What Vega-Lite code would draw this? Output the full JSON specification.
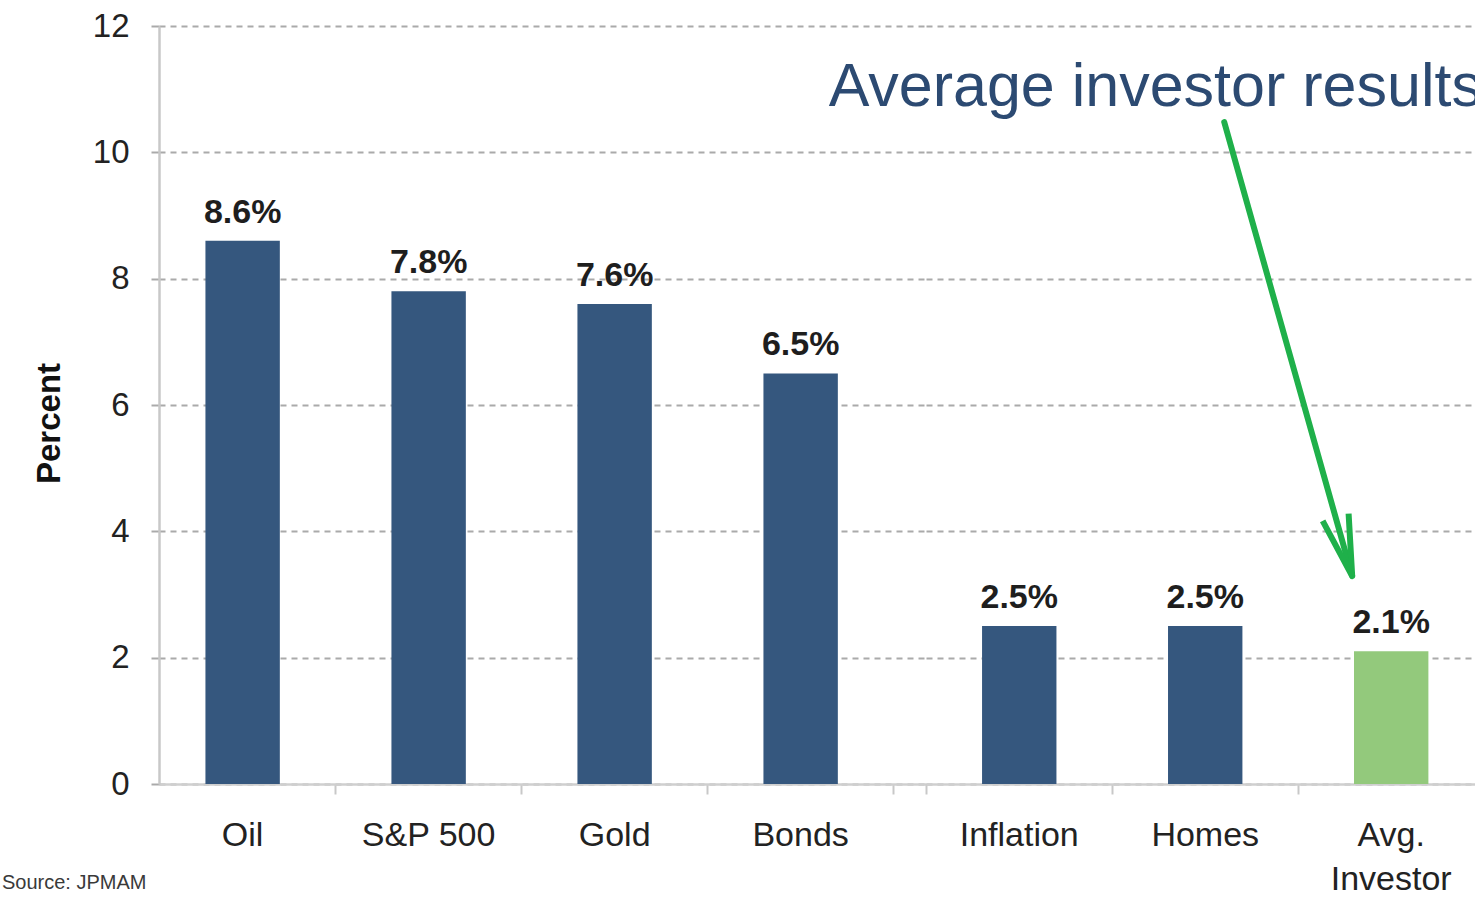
{
  "$schema": "https://vega.github.io/schema/vega-lite/v6.json",
  "padding": {"left": 2, "top": 10, "right": 0, "bottom": 0},
  "background": "white",
  "config": {"view": {"stroke": null}, "font": "Liberation Sans"},
  "bounds": "flush",
  "spacing": 0,
  "title": {"text": "Source: JPMAM", "orient": "bottom", "anchor": "start", "frame": "group", "fontSize": 20, "fontWeight": "normal", "color": "#3a3a3a", "dx": -157, "dy": -23, "offset": 0},
  "datasets": {
    "left": [
      {"cat": "Oil", "value": 8.6, "label": "8.6%", "kind": "asset"},
      {"cat": "S&P 500", "value": 7.8, "label": "7.8%", "kind": "asset"},
      {"cat": "Gold", "value": 7.6, "label": "7.6%", "kind": "asset"},
      {"cat": "Bonds", "value": 6.5, "label": "6.5%", "kind": "asset"}
    ],
    "right": [
      {"cat": "Inflation", "value": 2.5, "label": "2.5%", "kind": "asset"},
      {"cat": "Homes", "value": 2.5, "label": "2.5%", "kind": "asset"},
      {"cat": "Avg. Investor", "value": 2.1, "label": "2.1%", "kind": "investor"}
    ],
    "annot": [{"cat": "Bonds", "y": 10.73, "text": "Average investor results"}],
    "arrow": [{"from": "Homes", "to": "Avg. Investor", "y1": 10.48, "y2": 3.29}],
    "arrowhead": [{"cat": "Avg. Investor", "y": 3.29}]
  },
  "hconcat": [
    {
      "width": 767,
      "height": 758,
      "data": {"name": "left"},
      "encoding": {
        "x": {"field": "cat", "type": "nominal", "sort": null,
          "scale": {"domain": ["Oil", "S&P 500", "Gold", "Bonds"], "paddingInner": 0.6, "paddingOuter": 0.3618, "align": 0.345},
          "axis": {"title": null, "labelAngle": 0, "labelFontSize": 34, "labelColor": "#222222", "labelPadding": 24, "tickSize": 10, "tickColor": "#c8c8c8", "tickWidth": 2, "domainColor": "#cfcfcf", "domainWidth": 2.5, "bandPosition": 1.75}},
        "y": {"field": "value", "type": "quantitative",
          "scale": {"domain": [0, 12]},
          "axis": {"values": [0, 2, 4, 6, 8, 10, 12], "title": "Percent", "titleFontSize": 33, "titleFontWeight": "bold", "titleColor": "#111111", "titlePadding": 26, "titleY": 397, "titleAlign": "center", "labelFontSize": 33, "labelColor": "#222222", "labelPadding": 22, "tickSize": 8, "tickColor": "#aaaaaa", "tickWidth": 2, "domainColor": "#c8c8c8", "domainWidth": 2.5, "grid": true, "gridDash": [6, 5], "gridColor": "#aaaaaa", "gridWidth": 2}}
      },
      "layer": [
        {"mark": {"type": "bar"},
          "encoding": {"color": {"field": "kind", "type": "nominal", "scale": {"domain": ["asset", "investor"], "range": ["#35577e", "#93c97c"]}, "legend": null}}},
        {"mark": {"type": "text", "fontSize": 34, "fontWeight": "bold", "dy": -18, "baseline": "alphabetic", "color": "#1e1e1e"},
          "encoding": {"text": {"field": "label"}}},
        {"data": {"name": "annot"},
          "mark": {"type": "text", "align": "left", "baseline": "alphabetic", "fontSize": 61, "color": "#2c4a72", "dx": 28},
          "encoding": {"x": {"field": "cat", "type": "nominal"}, "y": {"field": "y", "type": "quantitative"}, "text": {"field": "text"}}}
      ]
    },
    {
      "width": 549,
      "height": 758,
      "data": {"name": "right"},
      "encoding": {
        "x": {"field": "cat", "type": "nominal", "sort": null,
          "scale": {"domain": ["Inflation", "Homes", "Avg. Investor"], "paddingInner": 0.6, "paddingOuter": 0.276, "align": 0.546},
          "axis": {"title": null, "labelAngle": 0, "labelFontSize": 34, "labelColor": "#222222", "labelPadding": 24, "tickSize": 10, "tickColor": "#c8c8c8", "tickWidth": 2, "domainColor": "#cfcfcf", "domainWidth": 2.5, "bandPosition": -0.75, "labelLineHeight": 44, "labelExpr": "datum.value == 'Avg. Investor' ? ['Avg.', 'Investor'] : datum.label"}},
        "y": {"field": "value", "type": "quantitative",
          "scale": {"domain": [0, 12]},
          "axis": {"values": [0, 2, 4, 6, 8, 10, 12], "title": null, "labels": false, "ticks": false, "domain": false, "grid": true, "gridDash": [6, 5], "gridColor": "#aaaaaa", "gridWidth": 2}}
      },
      "layer": [
        {"mark": {"type": "bar"},
          "encoding": {"color": {"field": "kind", "type": "nominal", "scale": {"domain": ["asset", "investor"], "range": ["#35577e", "#93c97c"]}, "legend": null}}},
        {"mark": {"type": "text", "fontSize": 34, "fontWeight": "bold", "dy": -18, "baseline": "alphabetic", "color": "#1e1e1e"},
          "encoding": {"text": {"field": "label"}}},
        {"data": {"name": "arrow"},
          "mark": {"type": "rule", "color": "#1fb04a", "strokeWidth": 6, "strokeCap": "round", "xOffset": 19, "x2Offset": -39},
          "encoding": {"x": {"field": "from", "type": "nominal"}, "x2": {"field": "to"}, "y": {"field": "y1", "type": "quantitative"}, "y2": {"field": "y2"}}},
        {"data": {"name": "arrowhead"},
          "mark": {"type": "point", "shape": "M-0.22,-1L0,0L0.22,-1", "filled": false, "stroke": "#1fb04a", "strokeWidth": 6, "size": 15000, "angle": 344.3, "xOffset": -39, "opacity": 1, "strokeJoin": "miter"},
          "encoding": {"x": {"field": "cat", "type": "nominal"}, "y": {"field": "y", "type": "quantitative"}}}
      ]
    }
  ]
}
